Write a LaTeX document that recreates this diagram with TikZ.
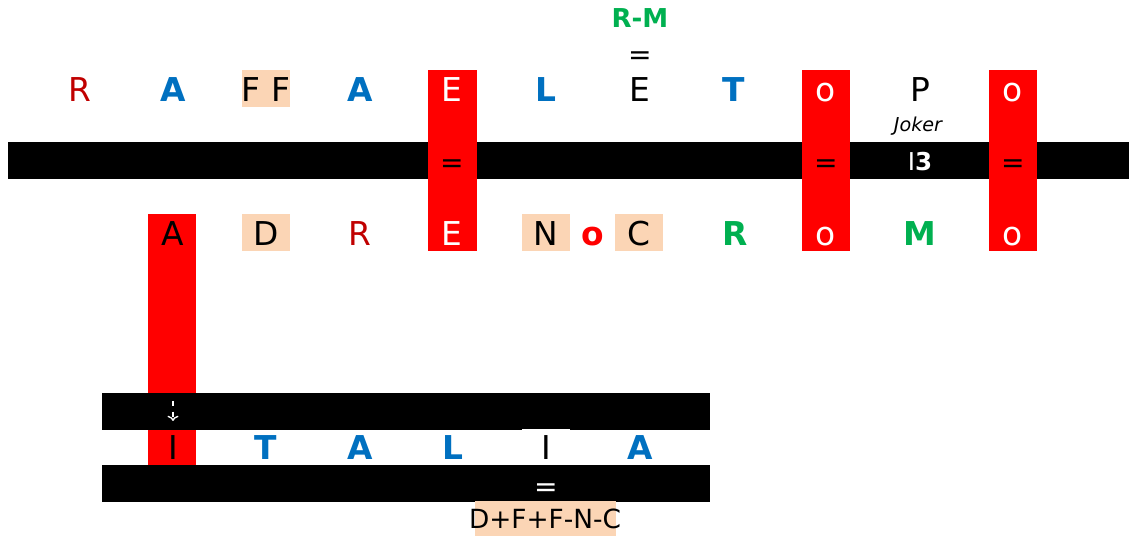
\documentclass[tikz,border=0pt]{standalone}
\usepackage{fontspec}
\setmainfont{DejaVu Sans}
\usetikzlibrary{arrows.meta,positioning}
\definecolor{dred}{HTML}{C00000}
\definecolor{lblue}{HTML}{0070C0}
\definecolor{lgreen}{HTML}{00B050}
\definecolor{peach}{HTML}{FBD5B5}

\begin{document}
\begin{tikzpicture}[x=0.02cm,y=-0.02cm,
  lt/.style={font=\fontsize{18.7}{22}\selectfont,inner sep=0pt,anchor=base},
  bl/.style={lt,font=\fontsize{18.7}{22}\selectfont\bfseries,text=lblue},
  gr/.style={lt,font=\fontsize{18.7}{22}\selectfont\bfseries,text=lgreen},
  wh/.style={lt,text=white},
  eq/.style={font=\fontsize{16}{18}\selectfont,inner sep=0pt},
  redbox/.style={fill=red},
  pbox/.style={fill=peach},
  barbox/.style={fill=black}
]
\useasboundingbox (0,0) rectangle (1129,536);

% top bar and columns
\fill[barbox] (8,142) rectangle (1129,179);
\fill[redbox] (428,70) rectangle (477,251);
\fill[redbox] (802,70) rectangle (850,251);
\fill[redbox] (989,70) rectangle (1037,251);
\fill[pbox] (242,70) rectangle (290,107);
\fill[pbox] (242,214) rectangle (290,251);
\fill[pbox] (522,214) rectangle (570,251);
\fill[pbox] (615,214) rectangle (663,251);

% lower bars
\fill[redbox] (148,214) rectangle (196,465);
\fill[barbox] (102,393) rectangle (710,430);
\fill[barbox] (102,465) rectangle (710,502);
\fill[white] (522,429) rectangle (570,465);
\fill[pbox] (475,501) rectangle (616,536);

% top row
\node[lt,text=dred] (r1) at (80,102) {R};
\node[bl] (a1) at (173,102) {A};
\node[lt] (ff) at (266,102) {F F};
\node[bl] (a2) at (360,102) {A};
\node[wh] (e1) at (452,102) {E};
\node[bl] (l1) at (546,102) {L};
\node[lt] (e2) at (640,102) {E};
\node[bl] (t1) at (734,102) {T};
\node[wh] (o1) at (826,102) {o};
\node[lt] (p1) at (920,102) {P};
\node[wh] (o2) at (1013,102) {o};

\node[lt,font=\fontsize{14.8}{17}\selectfont\bfseries,text=lgreen] (rm) at (640,28) {R-M};
\node[eq] (eqrm) at (640,58) {=};
\node[lt,font=\fontsize{10.9}{13}\selectfont\itshape] (joker) at (918,132) {Joker};

% middle bar
\node[eq] (eqe) at (452,166) {=};
\node[eq] (eqo1) at (826,166) {=};
\node[eq] (eqo2) at (1013,166) {=};
\node[lt,font=\fontsize{14}{16}\selectfont,text=white] (i3) at (920,171) {I\textbf{3}};

% bottom row
\node[lt] (a3) at (173,246) {A};
\node[lt] (d1) at (266,246) {D};
\node[lt,text=dred] (r2) at (360,246) {R};
\node[wh] (e3) at (452,246) {E};
\node[lt] (n1) at (546,246) {N};
\node[lt,font=\fontsize{18.7}{22}\selectfont\bfseries,text=red] (o3) at (593,246) {o};
\node[lt] (c1) at (639,246) {C};
\node[gr] (r3) at (735,246) {R};
\node[wh] (o4) at (826,246) {o};
\node[gr] (m1) at (920,246) {M};
\node[wh] (o5) at (1013,246) {o};

% result row
\coordinate (arrtop) at (173,401);
\coordinate (arrbot) at (173,421);
\draw[white,dashed,thick,-{To[length=3pt]}] (arrtop) -- (arrbot);
\node[lt] (i1) at (173,460) {I};
\node[bl] (t2) at (266,460) {T};
\node[bl] (a4) at (360,460) {A};
\node[bl] (l2) at (453,460) {L};
\node[lt] (i2) at (546,460) {I};
\node[bl] (a5) at (640,460) {A};
\node[eq,text=white] (eqb) at (546,490) {=};
\node[lt,font=\fontsize{15}{18}\selectfont] (sum) at (545,529) {D+F+F-N-C};
\end{tikzpicture}
\end{document}
